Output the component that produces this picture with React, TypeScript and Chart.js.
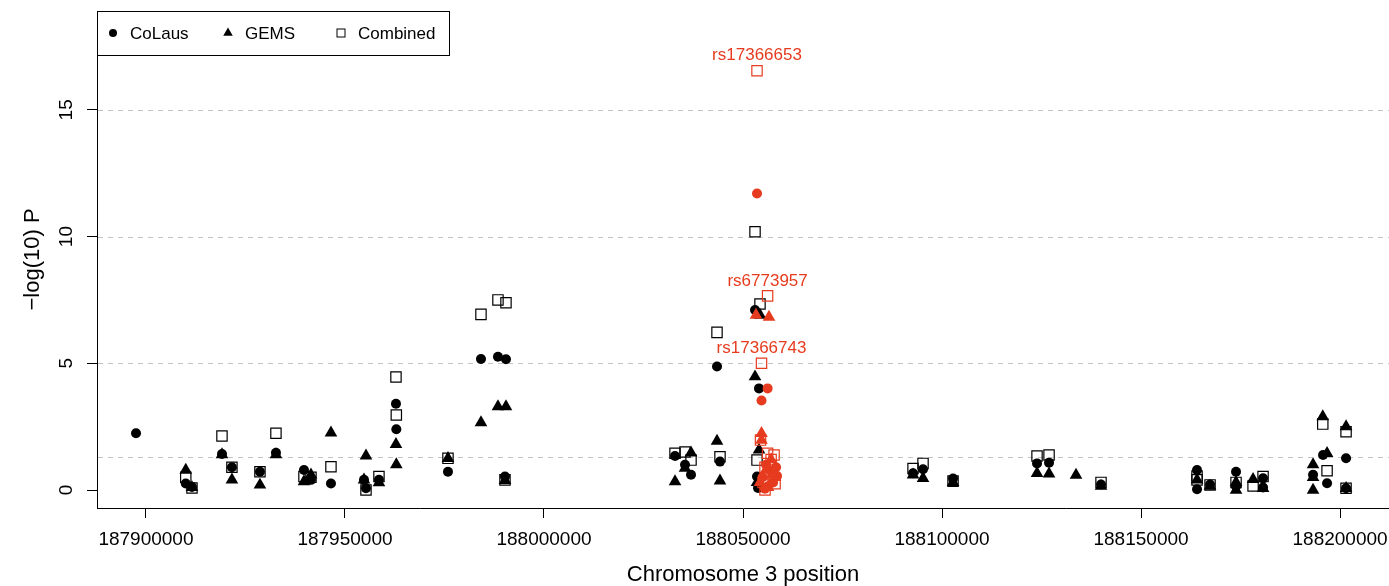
import React, { useEffect, useRef } from 'react';
import { Chart, registerables } from 'chart.js';

Chart.register(...registerables);

const FONT = '"Liberation Sans", Arial, Helvetica, sans-serif';
const RED = '#E63B1F';
const BLACK = '#000000';

// ---- axes ----
const xTicks = [187900000, 187950000, 188000000, 188050000, 188100000, 188150000, 188200000];
const yTicks = [0, 5, 10, 15];
const refLines = [1.3, 5, 10, 15];
const xRange = [187887700, 188212300];
const yRange = [-0.71, 18.9];

// ---- CoLaus (black circles) ----
const colausPos = [187897500, 187910000, 187911560, 187919100, 187921600, 187928640, 187932660, 187939700, 187941460, 187946480, 187954780, 187955280, 187958540, 187962815, 187962900, 187975880, 187984170, 187988440, 187990450, 187990200, 188032920, 188035430, 188036940, 188043470, 188044220, 188053020, 188054020, 188053520, 188053770, 188092720, 188095230, 188102770, 188123870, 188126890, 188139950, 188164070, 188164070, 188167340, 188173870, 188173870, 188180660, 188180660, 188195730, 188196740, 188201510, 188201510, 188193220];
const colausVal = [2.24, 0.26, 0.12, 1.42, 0.9, 0.72, 1.47, 0.79, 0.4, 0.26, 0.4, 0.07, 0.4, 3.4, 2.4, 0.72, 5.17, 5.26, 5.16, 0.53, 1.34, 1.0, 0.6, 4.87, 1.12, 7.1, 4.01, 0.53, 0.08, 0.66, 0.82, 0.45, 1.05, 1.08, 0.22, 0.79, 0.03, 0.22, 0.72, 0.15, 0.46, 0.1, 1.38, 0.27, 1.25, 0.07, 0.6];

// ---- GEMS (black triangles) ----
const gemsPos = [187910000, 187911560, 187919100, 187921600, 187928640, 187932660, 187939700, 187941460, 187946480, 187954780, 187955280, 187958540, 187962815, 187962900, 187975880, 187984170, 187988440, 187990450, 187990200, 188032920, 188035430, 188036940, 188043470, 188044220, 188054270, 188053020, 188054020, 188053520, 188092720, 188095230, 188102770, 188123870, 188126890, 188133670, 188139950, 188164070, 188167340, 188173870, 188173870, 188178150, 188180660, 188193220, 188193220, 188193220, 188195660, 188196740, 188201510, 188201510];
const gemsVal = [0.79, 0.1, 1.4, 0.4, 0.2, 1.4, 0.33, 0.6, 2.26, 0.4, 1.35, 0.29, 1.8, 1.0, 1.25, 2.66, 3.29, 3.29, 0.38, 0.33, 0.86, 1.47, 1.93, 0.36, 6.9, 4.47, 1.58, 0.3, 0.6, 0.46, 0.3, 0.66, 0.64, 0.59, 0.15, 0.4, 0.15, 0.3, 0.0, 0.42, 0.07, 1.0, 0.0, 0.5, 2.9, 1.45, 2.5, 0.07];

// ---- Combined (black open squares) ----
const combinedPos = [187910000, 187911560, 187919100, 187921600, 187928640, 187932660, 187939700, 187941460, 187946480, 187955280, 187958540, 187962815, 187962900, 187975880, 187984170, 187988440, 187990450, 187990200, 188032920, 188035430, 188036940, 188043470, 188044220, 188053020, 188054270, 188053520, 188092720, 188095230, 188102770, 188123870, 188126890, 188139950, 188164070, 188164070, 188167340, 188173870, 188178150, 188180660, 188195660, 188196740, 188201510, 188201510];
const combinedVal = [0.5, 0.08, 2.13, 0.9, 0.72, 2.24, 0.53, 0.5, 0.92, 0.0, 0.53, 4.46, 2.96, 1.25, 6.93, 7.5, 7.39, 0.4, 1.45, 1.5, 1.18, 6.22, 1.31, 10.19, 7.34, 1.18, 0.85, 1.05, 0.35, 1.34, 1.38, 0.3, 0.55, 0.4, 0.2, 0.3, 0.16, 0.53, 2.6, 0.76, 2.3, 0.07];

// ---- highlighted SNPs (red) ----
const redColausPos = [188053520, 188056180, 188054650, 188055780, 188057060, 188054900, 188057560, 188056300, 188058310, 188058560, 188055500];
const redColausVal = [11.7, 4.01, 3.53, 1.0, 0.75, 0.5, 0.3, 0.15, 0.9, 0.55, 0.05];
const redGemsPos = [188053270, 188056530, 188054650, 188054650, 188057060, 188055780, 188058060, 188054270, 188056300, 188057300];
const redGemsVal = [6.9, 6.82, 2.24, 1.97, 1.2, 0.8, 0.5, 0.3, 0.1, 0.6];
const redCombinedPos = [188053520, 188056180, 188054650, 188054400, 188056180, 188057810, 188057060, 188055530, 188057310, 188055030, 188055530, 188058060];
const redCombinedVal = [16.54, 7.66, 5.0, 1.97, 1.45, 1.38, 1.2, 0.9, 0.6, 0.3, 0.0, 0.25];

// ---- labelled SNPs (index into red Combined) ----
const snpLabels = ['rs17366653', 'rs6773957', 'rs17366743'];
const snpLabelIndex = [0, 1, 2];

const toPoints = (pos: number[], val: number[]) => pos.map((p, i) => ({ x: p, y: val[i] }));

const refLinePlugin = {
  id: 'refLines',
  beforeDatasetsDraw(chart: any) {
    const { ctx, chartArea, scales } = chart;
    const y = scales.y;
    ctx.save();
    ctx.strokeStyle = '#C4C4C4';
    ctx.lineWidth = 1;
    ctx.setLineDash([5, 5]);
    refLines.forEach((v) => {
      const py = Math.round(y.getPixelForValue(v)) + 0.5;
      ctx.beginPath();
      ctx.moveTo(chartArea.left + 1, py);
      ctx.lineTo(chartArea.right, py);
      ctx.stroke();
    });
    ctx.restore();
  },
};

const yLabelPlugin = {
  id: 'yRotLabels',
  afterDraw(chart: any) {
    const { ctx, scales } = chart;
    const y = scales.y;
    ctx.save();
    ctx.fillStyle = BLACK;
    ctx.font = `19px ${FONT}`;
    ctx.textAlign = 'center';
    ctx.textBaseline = 'alphabetic';
    y.ticks.forEach((t: any) => {
      const py = y.getPixelForValue(t.value);
      ctx.save();
      ctx.translate(y.right - 25, py);
      ctx.rotate(-Math.PI / 2);
      ctx.fillText(String(t.value), 0, 0);
      ctx.restore();
    });
    ctx.restore();
  },
};

const snpLabelPlugin = {
  id: 'snpLabels',
  afterDatasetsDraw(chart: any) {
    const { ctx } = chart;
    const dsIndex = chart.data.datasets.findIndex((d: any) => d.id === 'redCombined');
    const meta = chart.getDatasetMeta(dsIndex);
    ctx.save();
    ctx.fillStyle = RED;
    ctx.font = `17px ${FONT}`;
    ctx.textAlign = 'center';
    ctx.textBaseline = 'middle';
    snpLabelIndex.forEach((idx, i) => {
      const el = meta.data[idx];
      ctx.fillText(snpLabels[i], el.x, el.y - 15);
    });
    ctx.restore();
  },
};

const legendPlugin = {
  id: 'boxLegend',
  afterDraw(chart: any) {
    const { ctx, chartArea } = chart;
    const items = chart.data.datasets.filter((d: any) => d.inLegend);
    const left = chartArea.left;
    const top = chartArea.top;
    const w = 352;
    const h = 44;
    ctx.save();
    ctx.fillStyle = '#FFFFFF';
    ctx.fillRect(left, top, w, h);
    ctx.strokeStyle = BLACK;
    ctx.lineWidth = 1;
    ctx.strokeRect(left + 0.5, top + 0.5, w, h);
    const cy = top + h / 2;
    const symX = [16, 131, 244];
    items.forEach((d: any, i: number) => {
      const sx = left + symX[i];
      ctx.fillStyle = BLACK;
      ctx.strokeStyle = BLACK;
      ctx.lineWidth = 1;
      if (d.pointStyle === 'circle') {
        ctx.beginPath();
        ctx.arc(sx, cy, 4, 0, Math.PI * 2);
        ctx.fill();
      } else if (d.pointStyle === 'triangle') {
        const r = 5.5;
        ctx.beginPath();
        ctx.moveTo(sx, cy - r);
        ctx.lineTo(sx + r * 0.866, cy + r * 0.5);
        ctx.lineTo(sx - r * 0.866, cy + r * 0.5);
        ctx.closePath();
        ctx.fill();
      } else {
        ctx.strokeRect(sx - 4, cy - 4, 8, 8);
      }
      ctx.fillStyle = BLACK;
      ctx.font = `17px ${FONT}`;
      ctx.textAlign = 'left';
      ctx.textBaseline = 'middle';
      ctx.fillText(d.label, sx + 17, cy + 1);
    });
    ctx.restore();
  },
};

export default function App() {
  const canvasRef = useRef<HTMLCanvasElement | null>(null);

  useEffect(() => {
    document.body.style.margin = '0';
    document.body.style.overflow = 'hidden';
    const canvas = canvasRef.current;
    if (!canvas) return;

    const circle = (id: string, label: string, data: any[], color: string, order: number, inLegend: boolean) => ({
      id, label, data, inLegend, order,
      pointStyle: 'circle', pointRadius: 5, backgroundColor: color, borderColor: color, borderWidth: 0,
    });
    const tri = (id: string, label: string, data: any[], color: string, order: number, inLegend: boolean) => ({
      id, label, data, inLegend, order,
      pointStyle: 'triangle', pointRadius: 7.3, backgroundColor: color, borderColor: color, borderWidth: 0,
    });
    const sq = (id: string, label: string, data: any[], color: string, order: number, inLegend: boolean) => ({
      id, label, data, inLegend, order,
      pointStyle: 'rect', pointRadius: 7.3, backgroundColor: 'rgba(0,0,0,0)', borderColor: color, borderWidth: 1.2,
    });

    const chart = new Chart(canvas, {
      type: 'scatter',
      data: {
        datasets: [
          circle('colaus', 'CoLaus', toPoints(colausPos, colausVal), BLACK, 6, true),
          tri('gems', 'GEMS', toPoints(gemsPos, gemsVal), BLACK, 5, true),
          sq('combined', 'Combined', toPoints(combinedPos, combinedVal), BLACK, 4, true),
          circle('redColaus', 'CoLaus', toPoints(redColausPos, redColausVal), RED, 3, false),
          tri('redGems', 'GEMS', toPoints(redGemsPos, redGemsVal), RED, 2, false),
          sq('redCombined', 'Combined', toPoints(redCombinedPos, redCombinedVal), RED, 1, false),
        ] as any,
      },
      options: {
        animation: false,
        responsive: true,
        maintainAspectRatio: false,
        events: [],
        layout: { autoPadding: false, padding: { top: 11, right: 0, left: 0, bottom: 0 } },
        plugins: {
          legend: { display: false },
          tooltip: { enabled: false },
        },
        scales: {
          x: {
            type: 'linear',
            position: 'bottom',
            min: xRange[0],
            max: xRange[1],
            afterBuildTicks: (s: any) => { s.ticks = xTicks.map((v) => ({ value: v })); },
            afterFit: (s: any) => { s.height = 78; s.paddingLeft = 0; s.paddingRight = 0; s.paddingTop = 0; s.paddingBottom = 0; },
            grid: { drawOnChartArea: false, drawTicks: true, tickLength: 10, color: BLACK, lineWidth: 1 },
            border: { display: true, color: BLACK, width: 1 },
            ticks: {
              color: BLACK,
              font: { family: FONT, size: 19 },
              padding: 10,
              maxRotation: 0,
              minRotation: 0,
              autoSkip: false,
              callback: (v: any) => String(v),
            },
            title: {
              display: true,
              text: 'Chromosome 3 position',
              color: BLACK,
              font: { family: FONT, size: 22, lineHeight: 1 },
              padding: { top: 0, bottom: 0 },
            },
          },
          y: {
            type: 'linear',
            min: yRange[0],
            max: yRange[1],
            afterBuildTicks: (s: any) => { s.ticks = yTicks.map((v) => ({ value: v })); },
            afterFit: (s: any) => { s.width = 97; s.paddingLeft = 0; s.paddingRight = 0; s.paddingTop = 0; s.paddingBottom = 0; },
            grid: { drawOnChartArea: false, drawTicks: true, tickLength: 10, color: BLACK, lineWidth: 1 },
            border: { display: true, color: BLACK, width: 1 },
            ticks: { color: 'rgba(0,0,0,0)', font: { family: FONT, size: 19 } },
            title: {
              display: true,
              text: '−log(10) P',
              color: BLACK,
              font: { family: FONT, size: 22, lineHeight: 1 },
              padding: { top: 22, bottom: 0 },
            },
          },
        },
      } as any,
      plugins: [refLinePlugin, snpLabelPlugin, yLabelPlugin, legendPlugin],
    });

    return () => chart.destroy();
  }, []);

  return (
    <div style={{ position: 'relative', width: 1389, height: 586 }}>
      <canvas ref={canvasRef} />
    </div>
  );
}
